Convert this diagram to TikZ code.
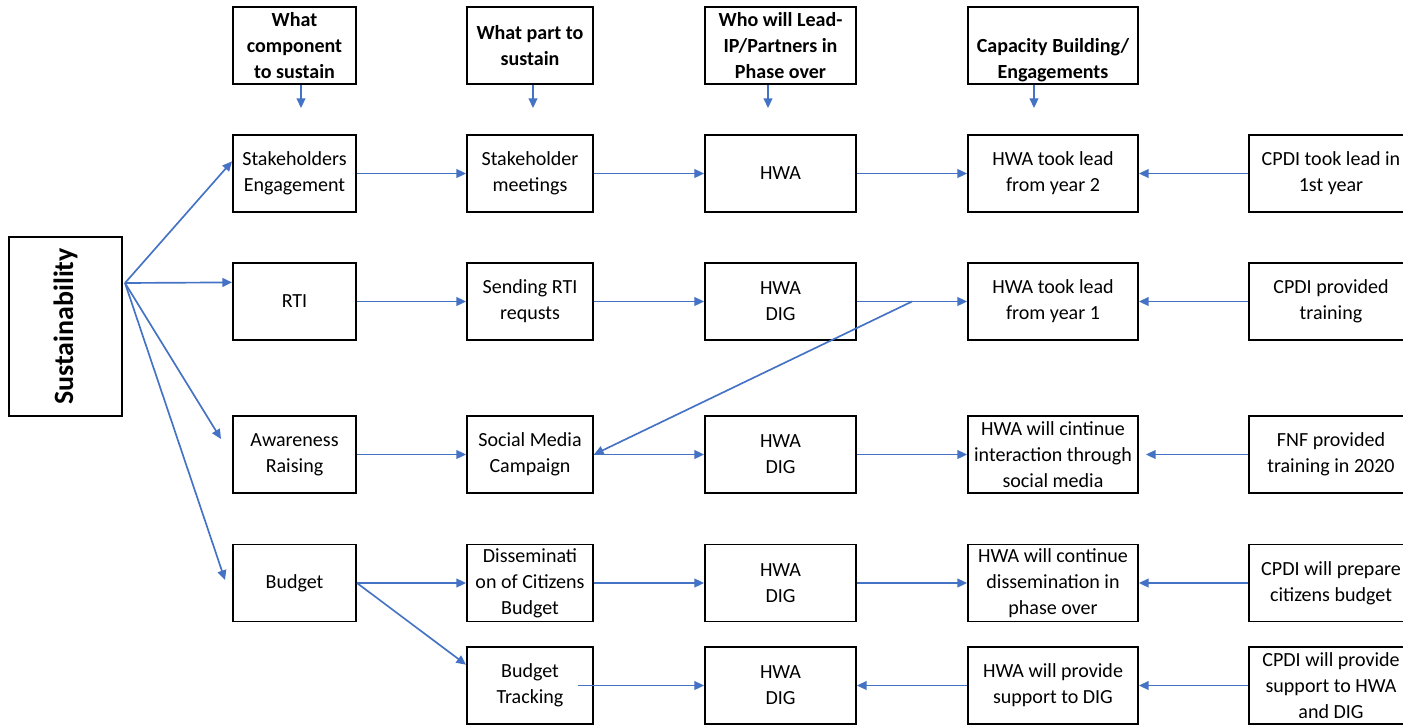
\documentclass[tikz,border=0pt]{standalone}
\usepackage{fontspec}
\setmainfont{Carlito}
\usetikzlibrary{arrows.meta,calc}
\definecolor{linkblue}{HTML}{4472C4}

\begin{document}
\begin{tikzpicture}[
    box/.style={draw, line width=1.1pt, align=center, minimum height=1.54cm, inner sep=1pt, font=\fontsize{11.4}{14.8}\selectfont},
    head/.style={box, font=\fontsize{11.4}{14.8}\selectfont\bfseries},
    colA/.style={minimum width=2.46cm},
    colB/.style={minimum width=2.52cm},
    colC/.style={minimum width=3.02cm},
    colD/.style={minimum width=3.4cm},
    colE/.style={minimum width=3.28cm},
    arrow/.style={-{Triangle[length=5.5pt,width=5pt]}, line width=0.95pt, linkblue}
  ]
    \useasboundingbox (0,0) rectangle (28.06,-14.52);

    % headers
    \node[head, colA] (hComp) at (5.89,-0.91)  {What\\component\\to sustain};
    \node[head, colB] (hPart) at (10.6,-0.91)  {What part to\\sustain};
    \node[head, colC] (hLead) at (15.61,-0.91) {Who will Lead-\\IP/Partners in\\Phase over};
    \node[head, colD] (hCap)  at (21.06,-0.91) {\strut\\Capacity Building/\\Engagements};

    \node[draw, line width=1.1pt, rotate=90, minimum width=3.58cm, minimum height=2.26cm,
          font=\fontsize{15.9}{18}\selectfont\bfseries] (sust) at (1.31,-6.53) {Sustainability};

    % row 1
    \node[box, colA] (steng)  at (5.89,-3.47)  {Stakeholders\\Engagement};
    \node[box, colB] (stmeet) at (10.6,-3.47)  {Stakeholder\\meetings};
    \node[box, colC] (hwaA)   at (15.61,-3.47) {HWA};
    \node[box, colD] (tookY2) at (21.06,-3.47) {HWA took lead\\from year 2};
    \node[box, colE] (cpdiY1) at (26.62,-3.47) {CPDI took lead in\\1st year};

    % row 2
    \node[box, colA] (rti)       at (5.89,-6.03)  {RTI};
    \node[box, colB] (sendrti)   at (10.6,-6.03)  {Sending RTI\\requsts};
    \node[box, colC] (hwadigA)   at (15.61,-6.03) {HWA\\DIG};
    \node[box, colD] (tookY1)    at (21.06,-6.03) {HWA took lead\\from year 1};
    \node[box, colE] (cpdiTrain) at (26.62,-6.03) {CPDI provided\\training};

    % row 3
    \node[box, colA] (aware)      at (5.89,-9.09)  {Awareness\\Raising};
    \node[box, colB] (social)     at (10.6,-9.09)  {Social Media\\Campaign};
    \node[box, colC] (hwadigB)    at (15.61,-9.09) {HWA\\DIG};
    \node[box, colD] (contSocial) at (21.06,-9.09) {HWA will cintinue\\interaction through\\social media};
    \node[box, colE] (fnf)        at (26.62,-9.09) {FNF provided\\training in 2020};

    % row 4
    \node[box, colA] (budget)     at (5.89,-11.66)  {Budget};
    \node[box, colB] (dissem)     at (10.6,-11.66)  {Disseminati\\on of Citizens\\Budget};
    \node[box, colC] (hwadigC)    at (15.61,-11.66) {HWA\\DIG};
    \node[box, colD] (contDissem) at (21.06,-11.66) {HWA will continue\\dissemination in\\phase over};
    \node[box, colE] (cpdiPrep)   at (26.62,-11.66) {CPDI will prepare\\citizens budget};

    % row 5
    \node[box, colB] (track)       at (10.6,-13.71)  {Budget\\Tracking};
    \node[box, colC] (hwadigD)     at (15.61,-13.71) {HWA\\DIG};
    \node[box, colD] (support)     at (21.06,-13.71) {HWA will provide\\support to DIG};
    \node[box, colE] (cpdiSupport) at (26.62,-13.71) {CPDI will provide\\support to HWA\\and DIG};

    % loose ends
    \coordinate (tipA) at (6.02,-2.16);
    \coordinate (tipB) at (10.66,-2.16);
    \coordinate (tipC) at (15.36,-2.16);
    \coordinate (tipD) at (20.68,-2.16);
    \coordinate (hub)  at (2.5,-5.66);
    \coordinate (toAware)  at (4.42,-8.78);
    \coordinate (toBudget) at (4.5,-11.6);
    \coordinate (fork) at ($(hwadigA.east)!0.5!(tookY1.west)$);

    \draw[arrow] (hComp.south -| tipA) -- (tipA);
    \draw[arrow] (hPart.south -| tipB) -- (tipB);
    \draw[arrow] (hLead.south -| tipC) -- (tipC);
    \draw[arrow] (hCap.south -| tipD) -- (tipD);

    \draw[arrow] (hub) -- (steng.169);
    \draw[arrow] (hub) -- (rti.163);
    \draw[arrow] (hub) -- (toAware);
    \draw[arrow] (hub) -- (toBudget);

    \draw[arrow] (steng.east) -- (stmeet.west);
    \draw[arrow] (stmeet.east) -- (hwaA.west);
    \draw[arrow] (hwaA.east) -- (tookY2.west);
    \draw[arrow] (cpdiY1.west) -- (tookY2.east);

    \draw[arrow] (rti.east) -- (sendrti.west);
    \draw[arrow] (sendrti.east) -- (hwadigA.west);
    \draw[arrow] (hwadigA.east) -- (tookY1.west);
    \draw[arrow] (cpdiTrain.west) -- (tookY1.east);
    \draw[arrow] (fork) -- (social.east);

    \draw[arrow] (aware.east) -- (social.west);
    \draw[arrow] (social.east) -- (hwadigB.west);
    \draw[arrow] (hwadigB.east) -- (contSocial.west);
    \draw[arrow, shorten >=0.14cm] (fnf.west) -- (contSocial.east);

    \draw[arrow] (budget.east) -- (dissem.west);
    \draw[arrow] (budget.east) -- (track.162);
    \draw[arrow] (dissem.east) -- (hwadigC.west);
    \draw[arrow] (hwadigC.east) -- (contDissem.west);
    \draw[arrow] (cpdiPrep.west) -- (contDissem.east);

    \draw[arrow, shorten <=-0.32cm] (track.east) -- (hwadigD.west);
    \draw[arrow] (support.west) -- (hwadigD.east);
    \draw[arrow] (cpdiSupport.west) -- (support.east);
  \end{tikzpicture}
\end{document}
